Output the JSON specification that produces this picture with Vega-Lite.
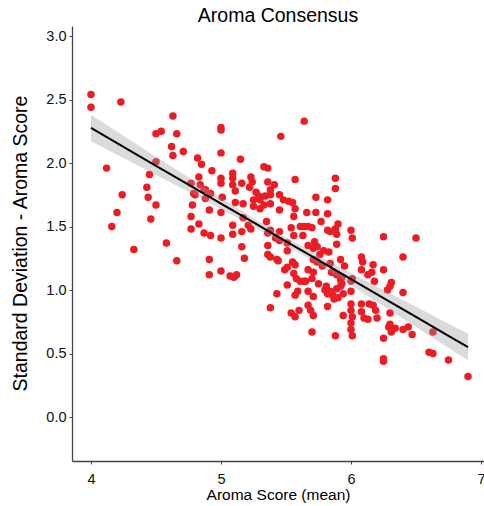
{
  "$schema": "https://vega.github.io/schema/vega-lite/v6.json",
  "autosize": "none",
  "width": 412,
  "height": 435,
  "padding": {"left": 72, "top": 26, "right": 0, "bottom": 45},
  "title": {"text": "Aroma Consensus", "fontSize": 19.5, "fontWeight": "normal", "font": "Liberation Sans", "color": "#000000", "anchor": "middle", "offset": 0},
  "config": {
    "view": {"stroke": null},
    "axis": {"grid": false, "domainColor": "#444444", "domainWidth": 1.3, "tickColor": "#444444", "tickSize": 3, "labelFont": "Liberation Sans", "labelFontSize": 14.5, "labelColor": "#111111", "titleFont": "Liberation Sans", "titleColor": "#000000", "titleFontWeight": "normal"}
  },
  "datasets": {
    "pts": [
      {"x":4.00,"y":2.54},{"x":4.00,"y":2.44},{"x":4.23,"y":2.48},{"x":4.63,"y":2.37},{"x":4.50,"y":2.23},{"x":4.54,"y":2.25},{"x":4.66,"y":2.23},{"x":4.62,"y":2.13},{"x":4.71,"y":2.09},{"x":4.63,"y":2.06},
      {"x":4.82,"y":2.04},{"x":4.85,"y":1.99},{"x":4.50,"y":2.01},{"x":4.12,"y":1.96},{"x":4.45,"y":1.91},{"x":4.83,"y":1.89},{"x":4.93,"y":1.94},{"x":4.43,"y":1.81},{"x":4.44,"y":1.73},{"x":4.24,"y":1.75},
      {"x":4.77,"y":1.84},{"x":4.79,"y":1.76},{"x":4.84,"y":1.83},{"x":4.88,"y":1.79},{"x":4.92,"y":1.76},{"x":4.88,"y":1.72},{"x":4.50,"y":1.67},{"x":4.78,"y":1.67},{"x":4.20,"y":1.61},{"x":4.46,"y":1.56},
      {"x":4.77,"y":1.58},{"x":4.77,"y":1.48},{"x":4.83,"y":1.52},{"x":4.87,"y":1.45},{"x":4.91,"y":1.63},{"x":4.16,"y":1.50},{"x":4.58,"y":1.37},{"x":4.33,"y":1.32},{"x":4.66,"y":1.23},{"x":4.91,"y":1.24},
      {"x":4.91,"y":1.12},{"x":4.92,"y":1.43},{"x":5.00,"y":2.28},{"x":5.00,"y":2.26},{"x":5.64,"y":2.33},{"x":5.46,"y":2.21},{"x":5.00,"y":2.08},{"x":5.15,"y":2.03},{"x":5.00,"y":1.88},{"x":5.00,"y":1.84},
      {"x":5.09,"y":1.92},{"x":5.09,"y":1.88},{"x":5.16,"y":1.84},{"x":5.23,"y":1.89},{"x":5.24,"y":1.85},{"x":5.33,"y":1.97},{"x":5.36,"y":1.96},{"x":5.22,"y":1.81},{"x":5.27,"y":1.77},{"x":5.29,"y":1.74},
      {"x":5.36,"y":1.85},{"x":5.41,"y":1.83},{"x":5.38,"y":1.79},{"x":5.57,"y":1.87},{"x":5.09,"y":1.83},{"x":5.01,"y":1.73},{"x":5.45,"y":1.75},{"x":5.38,"y":1.75},{"x":5.48,"y":1.71},{"x":5.52,"y":1.70},
      {"x":5.55,"y":1.69},{"x":5.57,"y":1.64},{"x":5.00,"y":1.61},{"x":5.11,"y":1.69},{"x":5.17,"y":1.68},{"x":5.25,"y":1.66},{"x":5.30,"y":1.64},{"x":5.33,"y":1.67},{"x":5.25,"y":1.71},{"x":5.30,"y":1.71},
      {"x":5.38,"y":1.68},{"x":5.45,"y":1.63},{"x":5.09,"y":1.51},{"x":5.17,"y":1.57},{"x":5.21,"y":1.51},{"x":5.35,"y":1.54},{"x":5.56,"y":1.58},{"x":5.66,"y":1.61},{"x":5.73,"y":1.61},{"x":5.00,"y":1.41},
      {"x":5.09,"y":1.44},{"x":5.16,"y":1.46},{"x":5.23,"y":1.48},{"x":5.36,"y":1.45},{"x":5.42,"y":1.41},{"x":5.45,"y":1.39},{"x":5.51,"y":1.37},{"x":5.54,"y":1.49},{"x":5.61,"y":1.50},{"x":5.64,"y":1.50},
      {"x":5.67,"y":1.50},{"x":5.70,"y":1.49},{"x":5.56,"y":1.43},{"x":5.63,"y":1.43},{"x":5.67,"y":1.35},{"x":5.72,"y":1.38},{"x":5.16,"y":1.34},{"x":5.18,"y":1.25},{"x":5.36,"y":1.35},{"x":5.36,"y":1.28},
      {"x":5.38,"y":1.26},{"x":5.44,"y":1.23},{"x":5.51,"y":1.31},{"x":5.55,"y":1.22},{"x":5.57,"y":1.20},{"x":5.00,"y":1.15},{"x":5.07,"y":1.11},{"x":5.10,"y":1.10},{"x":5.12,"y":1.12},{"x":5.49,"y":1.16},
      {"x":5.51,"y":1.04},{"x":5.74,"y":1.22},{"x":5.67,"y":1.16},{"x":5.43,"y":0.97},{"x":5.38,"y":0.86},{"x":5.51,"y":1.18},{"x":5.56,"y":1.13},{"x":5.58,"y":1.09},{"x":5.61,"y":1.07},{"x":5.64,"y":1.07},
      {"x":5.59,"y":0.99},{"x":5.57,"y":0.96},{"x":5.67,"y":0.99},{"x":5.71,"y":1.14},{"x":5.70,"y":1.09},{"x":5.75,"y":1.05},{"x":5.71,"y":0.95},{"x":5.67,"y":0.88},{"x":5.69,"y":0.84},{"x":5.71,"y":0.80},
      {"x":5.54,"y":0.82},{"x":5.57,"y":0.79},{"x":5.60,"y":0.84},{"x":5.70,"y":0.67},{"x":5.81,"y":1.03},{"x":5.82,"y":0.97},{"x":5.82,"y":0.87},{"x":5.79,"y":1.31},{"x":5.76,"y":1.28},{"x":5.74,"y":1.34},
      {"x":5.71,"y":1.33},{"x":5.83,"y":1.30},{"x":5.82,"y":1.47},{"x":5.84,"y":1.46},{"x":5.89,"y":1.44},{"x":6.00,"y":1.47},{"x":6.01,"y":1.41},{"x":6.25,"y":1.42},{"x":6.50,"y":1.41},{"x":5.89,"y":1.36},
      {"x":5.71,"y":1.24},{"x":5.84,"y":1.21},{"x":5.92,"y":1.24},{"x":5.95,"y":1.19},{"x":6.08,"y":1.26},{"x":6.09,"y":1.22},{"x":6.08,"y":1.16},{"x":6.17,"y":1.20},{"x":6.16,"y":1.14},{"x":6.13,"y":1.12},
      {"x":6.25,"y":1.16},{"x":6.40,"y":1.26},{"x":5.78,"y":1.19},{"x":5.85,"y":1.14},{"x":5.89,"y":1.12},{"x":5.93,"y":1.10},{"x":6.00,"y":1.07},{"x":6.18,"y":1.07},{"x":6.31,"y":1.06},{"x":6.30,"y":1.03},
      {"x":6.28,"y":1.00},{"x":6.40,"y":0.98},{"x":5.80,"y":1.00},{"x":5.84,"y":0.99},{"x":5.86,"y":0.96},{"x":5.89,"y":1.01},{"x":5.92,"y":1.03},{"x":5.90,"y":0.94},{"x":5.94,"y":0.97},{"x":5.87,"y":0.93},
      {"x":6.00,"y":0.99},{"x":6.08,"y":0.89},{"x":6.08,"y":0.83},{"x":6.14,"y":0.89},{"x":6.17,"y":0.88},{"x":6.19,"y":0.84},{"x":6.20,"y":0.78},{"x":6.00,"y":0.89},{"x":6.00,"y":0.84},{"x":6.01,"y":0.79},
      {"x":6.00,"y":0.74},{"x":6.00,"y":0.69},{"x":6.01,"y":0.64},{"x":5.94,"y":0.80},{"x":5.88,"y":0.64},{"x":6.10,"y":0.78},{"x":6.13,"y":0.77},{"x":6.30,"y":0.82},{"x":6.29,"y":0.71},{"x":6.31,"y":0.67},
      {"x":6.34,"y":0.70},{"x":6.30,"y":0.73},{"x":6.40,"y":0.69},{"x":6.44,"y":0.71},{"x":6.47,"y":0.65},{"x":6.25,"y":0.62},{"x":6.25,"y":0.46},{"x":6.25,"y":0.44},{"x":6.63,"y":0.67},{"x":6.60,"y":0.51},
      {"x":6.63,"y":0.50},{"x":6.75,"y":0.45},{"x":6.90,"y":0.32},{"x":5.88,"y":1.88},{"x":5.88,"y":1.80},{"x":5.73,"y":1.73},{"x":5.82,"y":1.71},{"x":5.82,"y":1.60},{"x":5.77,"y":1.54},{"x":5.90,"y":1.52},
      {"x":5.88,"y":1.48},{"x":5.45,"y":1.46},{"x":5.38,"y":1.47},{"x":5.43,"y":1.24},{"x":6.01,"y":1.09},{"x":5.92,"y":1.08},{"x":5.93,"y":1.05},{"x":5.34,"y":1.74},{"x":5.11,"y":1.78},{"x":4.80,"y":1.75},
      {"x":4.87,"y":1.79},{"x":5.65,"y":1.07}
    ],
    "fit": [
      {"x":4.0,"fit":2.276,"lo":2.171,"hi":2.381},
      {"x":4.25,"fit":2.127,"lo":2.039,"hi":2.215},
      {"x":4.5,"fit":1.978,"lo":1.906,"hi":2.050},
      {"x":4.75,"fit":1.830,"lo":1.773,"hi":1.887},
      {"x":5.0,"fit":1.681,"lo":1.638,"hi":1.724},
      {"x":5.25,"fit":1.532,"lo":1.499,"hi":1.565},
      {"x":5.5,"fit":1.384,"lo":1.354,"hi":1.414},
      {"x":5.75,"fit":1.235,"lo":1.199,"hi":1.272},
      {"x":6.0,"fit":1.086,"lo":1.038,"hi":1.135},
      {"x":6.25,"fit":0.937,"lo":0.874,"hi":1.000},
      {"x":6.5,"fit":0.789,"lo":0.710,"hi":0.868},
      {"x":6.75,"fit":0.640,"lo":0.545,"hi":0.735},
      {"x":6.9,"fit":0.551,"lo":0.446,"hi":0.656}
    ]
  },
  "layer": [
    {
      "data": {"name": "pts"},
      "mark": {"type": "circle", "size": 56, "color": "#ED1C24", "opacity": 1},
      "encoding": {
        "x": {"field": "x", "type": "quantitative", "scale": {"domain": [3.854, 7.023], "nice": false, "zero": false},
              "axis": {"values": [4, 5, 6, 7], "format": "d", "title": "Aroma Score (mean)", "titleFontSize": 15.5, "labelPadding": 8, "titlePadding": 2}},
        "y": {"field": "y", "type": "quantitative", "scale": {"domain": [-0.346, 3.079], "nice": false, "zero": false},
              "axis": {"values": [0, 0.5, 1, 1.5, 2, 2.5, 3], "format": ".1f", "title": "Standard Deviation - Aroma Score", "titleFontSize": 19.5, "labelPadding": 3, "titleX": -52, "titleY": 217, "titleAlign": "center", "titleBaseline": "middle", "titleAngle": -90}}
      }
    },
    {
      "data": {"name": "fit"},
      "mark": {"type": "area", "color": "#999999", "opacity": 0.35},
      "encoding": {
        "x": {"field": "x", "type": "quantitative"},
        "y": {"field": "lo", "type": "quantitative"},
        "y2": {"field": "hi"}
      }
    },
    {
      "data": {"name": "fit"},
      "mark": {"type": "line", "color": "#000000", "strokeWidth": 2},
      "encoding": {
        "x": {"field": "x", "type": "quantitative"},
        "y": {"field": "fit", "type": "quantitative"}
      }
    }
  ]
}
